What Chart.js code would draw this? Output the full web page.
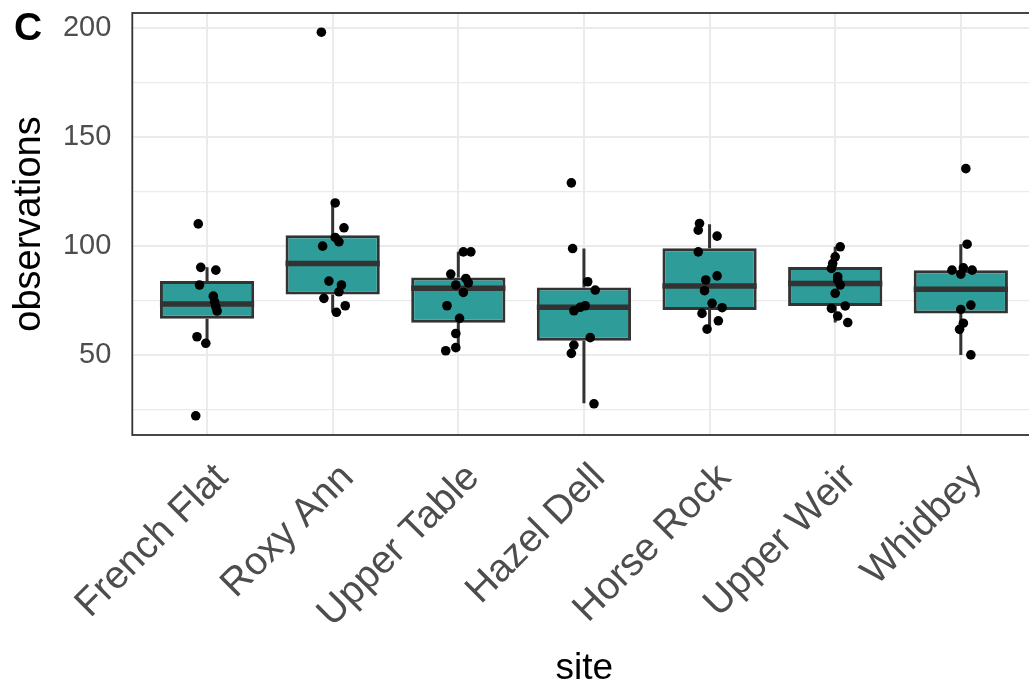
<!DOCTYPE html>
<html>
<head>
<meta charset="utf-8">
<script src="https://cdn.jsdelivr.net/npm/chart.js@4.4.1/dist/chart.umd.min.js"></script>
<style>
  html, body { margin: 0; padding: 0; background: #ffffff; overflow: hidden; }
  #wrap { width: 1029px; height: 691px; position: relative; overflow: hidden; }
  #c { position: absolute; left: 0; top: 0; }
</style>
</head>
<body>
<div id="wrap"><canvas id="c" width="1041" height="691"></canvas></div>
<script>
// ---- data ----
const sites = ['French Flat', 'Roxy Ann', 'Upper Table', 'Hazel Dell', 'Horse Rock', 'Upper Weir', 'Whidbey'];
const q1 = [66.8, 77.9, 64.9, 56.7, 70.7, 72.6, 69.2];
const medians = [73.5, 92.1, 80.7, 72.0, 81.8, 82.9, 80.3];
const q3 = [84.0, 105.0, 85.7, 81.1, 99.0, 90.5, 89.0];
const whiskerLow = [55.5, 69.7, 52.1, 28.1, 62.0, 65.0, 50.2];
const whiskerHigh = [90.3, 119.8, 97.4, 98.9, 110.0, 99.7, 100.9];

const ffObs = [110.2, 90.3, 89.0, 82.2, 77.1, 74.5, 72.2, 70.3, 58.5, 55.5, 22.3];
const ffJit = [-0.07, -0.05, 0.07, -0.06, 0.05, 0.06, 0.07, 0.08, -0.08, -0.01, -0.09];
const raObs = [198.0, 119.8, 108.4, 104.0, 102.0, 100.0, 84.0, 82.2, 79.1, 76.1, 72.7, 69.7];
const raJit = [-0.09, 0.02, 0.09, 0.02, 0.05, -0.08, -0.03, 0.07, 0.05, -0.07, 0.10, 0.03];
const utObs = [97.4, 97.4, 87.2, 85.2, 83.2, 82.2, 78.8, 72.7, 66.9, 60.0, 53.5, 52.1];
const utJit = [0.04, 0.10, -0.06, 0.06, 0.08, -0.02, 0.04, -0.09, 0.01, -0.02, -0.02, -0.10];
const hdObs = [129.0, 98.9, 83.7, 79.9, 72.7, 72.0, 70.4, 58.1, 54.7, 50.9, 27.8];
const hdJit = [-0.10, -0.09, 0.03, 0.09, 0.01, -0.03, -0.08, 0.05, -0.08, -0.10, 0.08];
const hrObs = [110.4, 107.3, 104.6, 97.4, 86.4, 84.5, 79.6, 73.8, 71.8, 69.2, 65.8, 62.0];
const hrJit = [-0.08, -0.09, 0.06, -0.09, 0.06, -0.03, -0.04, 0.02, 0.10, -0.06, 0.07, -0.02];
const uwObs = [99.7, 95.1, 92.0, 89.8, 86.0, 84.5, 82.2, 78.4, 72.6, 71.5, 68.0, 65.0];
const uwJit = [0.04, 0.00, -0.02, -0.03, 0.02, 0.02, 0.04, 0.00, 0.08, -0.03, 0.02, 0.10];
const wbObs = [135.5, 100.9, 89.0, 90.1, 89.0, 87.2, 73.0, 71.0, 64.7, 61.9, 50.2];
const wbJit = [0.04, 0.05, -0.07, 0.02, 0.09, 0.00, 0.08, 0.00, 0.02, -0.01, 0.08];

const yTicks = [25, 50, 75, 100, 125, 150, 175, 200];
const yMin = 13.5, yMax = 206.8;
const panelLabel = 'C';

// ---- build library structures ----
const obsBySite = [ffObs, raObs, utObs, hdObs, hrObs, uwObs, wbObs];
const jitBySite = [ffJit, raJit, utJit, hdJit, hrJit, uwJit, wbJit];
const pointData = [];
obsBySite.forEach((arr, i) => arr.forEach((v, j) => pointData.push({ x: i + jitBySite[i][j], y: v })));
const boxData = sites.map((s, i) => ({ x: i, y: [q1[i], q3[i]] }));

const FAMILY = "'Liberation Sans', Arial, Helvetica, sans-serif";
const DARK = '#333333';
const BOX_HALF = 0.375;

const boxPlugin = {
  id: 'boxExtras',
  beforeDatasetsDraw(chart) {
    const { ctx, scales: { x, y } } = chart;
    ctx.save();
    ctx.strokeStyle = DARK;
    ctx.lineWidth = 3;
    sites.forEach((s, i) => {
      const px = x.getPixelForValue(i);
      ctx.beginPath();
      ctx.moveTo(px, y.getPixelForValue(whiskerLow[i]));
      ctx.lineTo(px, y.getPixelForValue(q1[i]));
      ctx.moveTo(px, y.getPixelForValue(q3[i]));
      ctx.lineTo(px, y.getPixelForValue(whiskerHigh[i]));
      ctx.stroke();
    });
    ctx.restore();
  },
  afterDatasetDraw(chart, args) {
    if (args.index !== 1) return;
    const { ctx, scales: { x, y } } = chart;
    ctx.save();
    ctx.strokeStyle = DARK;
    ctx.lineWidth = 5.5;
    sites.forEach((s, i) => {
      const py = y.getPixelForValue(medians[i]);
      ctx.beginPath();
      ctx.moveTo(x.getPixelForValue(i - BOX_HALF), py);
      ctx.lineTo(x.getPixelForValue(i + BOX_HALF), py);
      ctx.stroke();
    });
    ctx.restore();
  },
  afterDatasetsDraw(chart) {
    const { ctx, chartArea: a } = chart;
    ctx.save();
    ctx.strokeStyle = DARK;
    ctx.lineWidth = 1.8;
    ctx.strokeRect(a.left, a.top, a.right - a.left, a.bottom - a.top);
    ctx.restore();
  },
  afterDraw(chart) {
    const { ctx } = chart;
    ctx.save();
    ctx.fillStyle = '#000000';
    ctx.font = 'bold 39px ' + FAMILY;
    ctx.textAlign = 'left';
    ctx.textBaseline = 'alphabetic';
    ctx.fillText(panelLabel, 14, 40);
    ctx.restore();
  }
};

function zeroPad(s) { s.paddingTop = 0; s.paddingBottom = 0; s.paddingLeft = 0; s.paddingRight = 0; }

new Chart(document.getElementById('c'), {
  data: {
    datasets: [
      {
        type: 'scatter',
        data: pointData,
        order: 0,
        pointRadius: 4.8,
        pointHoverRadius: 4.8,
        pointBackgroundColor: '#000000',
        pointBorderWidth: 0,
        clip: false
      },
      {
        type: 'bar',
        data: boxData,
        order: 1,
        backgroundColor: '#2E9D99',
        borderColor: DARK,
        borderWidth: 3,
        borderSkipped: false,
        categoryPercentage: 1.0,
        barPercentage: BOX_HALF * 2
      }
    ]
  },
  options: {
    responsive: false,
    animation: false,
    devicePixelRatio: 1,
    layout: { padding: { left: 0, right: 0, top: 13, bottom: 0 } },
    plugins: { legend: { display: false }, tooltip: { enabled: false } },
    scales: {
      x: {
        type: 'linear',
        offset: false,
        min: -0.595,
        max: 6.6,
        afterBuildTicks: (s) => { s.ticks = sites.map((_, i) => ({ value: i })); },
        afterFit: (s) => { s.height = 256; zeroPad(s); },
        ticks: {
          autoSkip: false,
          maxRotation: 45,
          minRotation: 45,
          padding: 20,
          labelOffset: 15,
          color: '#4D4D4D',
          font: { size: 39, family: FAMILY },
          callback: (v) => sites[v]
        },
        grid: { color: '#EBEBEB', lineWidth: 2, drawTicks: false, offset: false },
        border: { display: false },
        title: {
          display: true,
          text: 'site',
          color: '#000000',
          font: { size: 37, family: FAMILY },
          padding: { top: 0, bottom: 0 }
        }
      },
      y: {
        type: 'linear',
        min: yMin,
        max: yMax,
        afterBuildTicks: (s) => { s.ticks = yTicks.map(v => ({ value: v })); },
        afterFit: (s) => { s.width = 132.3; zeroPad(s); },
        ticks: {
          padding: 21,
          color: '#4D4D4D',
          font: { size: 29, family: FAMILY },
          callback: (v) => (v % 50 === 0 ? String(v) : '')
        },
        grid: {
          color: '#EBEBEB',
          lineWidth: (ctx) => (ctx.tick && ctx.tick.value % 50 === 0 ? 2 : 1.3),
          drawTicks: false
        },
        border: { display: false },
        title: {
          display: true,
          text: 'observations',
          color: '#000000',
          font: { size: 38, family: FAMILY },
          padding: { top: 7, bottom: 0 }
        }
      }
    }
  },
  plugins: [boxPlugin]
});
</script>
</body>
</html>
